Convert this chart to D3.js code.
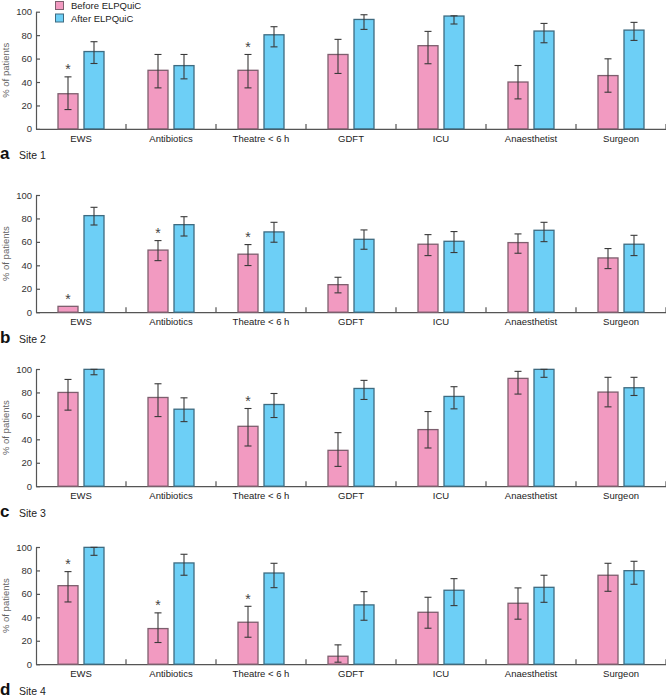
<!DOCTYPE html>
<html>
<head>
<meta charset="utf-8">
<script src="https://cdn.jsdelivr.net/npm/d3@7"></script>
<style>
  html, body { margin: 0; padding: 0; background: #fff; }
  svg { display: block; font-family: "Liberation Sans", Arial, Helvetica, sans-serif; }
</style>
</head>
<body>
<svg id="chart" width="666" height="699"></svg>
<script>
// ---------- DATA ----------
const categories = ["EWS", "Antibiotics", "Theatre < 6 h", "GDFT", "ICU", "Anaesthetist", "Surgeon"];
const seriesNames = ["Before ELPQuiC", "After ELPQuiC"];
const siteLetters = ["a", "b", "c", "d"];
const siteNames = ["Site 1", "Site 2", "Site 3", "Site 4"];
const yTicks = [0, 20, 40, 60, 80, 100];

// Site 1
const before1   = [30, 50, 50, 63.5, 71, 40, 45.5];
const before1Lo = [16.5, 35, 35, 47.3, 55.6, 25.6, 31.3];
const before1Hi = [44.4, 63.5, 63.5, 76.4, 83.2, 54.1, 59.8];
const after1    = [66, 54, 80.3, 93.4, 96.3, 83.5, 84.3];
const after1Lo  = [55.8, 42.7, 70, 84.9, 89.5, 73.5, 75.5];
const after1Hi  = [74.4, 63.5, 87.2, 97.4, 96.5, 90, 90.9];
const stars1    = [1, 0, 1, 0, 0, 0, 0];

// Site 2
const before2   = [5, 53, 49.5, 23.5, 58, 59.4, 46.3];
const before2Lo = [5, 44, 39.8, 16.5, 48.3, 50.3, 37.2];
const before2Hi = [5, 61.1, 57.7, 29.8, 66.2, 66.8, 54.3];
const after2    = [82.4, 74.7, 68.5, 62.2, 60.5, 69.9, 58];
const after2Lo  = [74.4, 65, 59.7, 53.7, 50.9, 60.2, 48.3];
const after2Hi  = [89.5, 81.5, 76.7, 70.2, 68.8, 76.7, 65.6];
const stars2    = [1, 1, 1, 0, 0, 0, 0];

// Site 3
const before3   = [80, 75.7, 51.1, 30.6, 48.3, 92, 80.3];
const before3Lo = [64.9, 59.4, 34.3, 16.9, 32.6, 78.6, 67.7];
const before3Hi = [91.1, 87.4, 66.3, 45.7, 63.7, 98, 92.9];
const after3    = [99.7, 65.7, 69.7, 83.4, 76.6, 99.7, 84];
const after3Lo  = [95.1, 55.1, 58.6, 74, 66, 92.9, 77.4];
const after3Hi  = [99.7, 75.4, 79.1, 90.3, 84.9, 99.7, 92.9];
const stars3    = [0, 0, 1, 0, 0, 0, 0];

// Site 4
const before4   = [67, 30.4, 35.8, 6.8, 44.3, 52, 75.9];
const before4Lo = [53.1, 18.5, 23, 1.7, 30.7, 38.4, 62.2];
const before4Hi = [79, 43.8, 49.4, 16.5, 57.1, 65.1, 86.1];
const after4    = [99.7, 86.4, 77.8, 50.6, 63.1, 65.6, 79.8];
const after4Lo  = [92.9, 75.9, 65.3, 37.5, 50, 52.8, 68.2];
const after4Hi  = [99.7, 93.8, 86.1, 61.9, 73, 75.9, 87.8];
const stars4    = [1, 1, 1, 0, 0, 0, 0];

// ---------- LAYOUT ----------
const sites = [
  {before: before1, bLo: before1Lo, bHi: before1Hi, after: after1, aLo: after1Lo, aHi: after1Hi, stars: stars1},
  {before: before2, bLo: before2Lo, bHi: before2Hi, after: after2, aLo: after2Lo, aHi: after2Hi, stars: stars2},
  {before: before3, bLo: before3Lo, bHi: before3Hi, after: after3, aLo: after3Lo, aHi: after3Hi, stars: stars3},
  {before: before4, bLo: before4Lo, bHi: before4Hi, after: after4, aLo: after4Lo, aHi: after4Hi, stars: stars4}
];
const panelTops = [11.7, 195, 369, 547];
const panelH = 117.2;
const axisX = 36, rightX = 666;

const colors = {fill: ["#f29ac1", "#6dcff6"], stroke: ["#7d5f6e", "#3e6b80"]};
const axisColor = "#555";
const errColor = "#3a3a3a";

const svg = d3.select("#chart");

const x = d3.scaleBand().domain(categories).range([axisX, rightX]).paddingInner(0).paddingOuter(0);
const xs = d3.scaleBand().domain([0, 1]).range([22, 68]).paddingInner(2 - 46 / 26).paddingOuter(0);

sites.forEach((s, i) => {
  const top = panelTops[i];
  const y = d3.scaleLinear().domain([0, 100]).range([top + panelH, top]);
  const g = svg.append("g");

  // Y axis
  const yAxis = d3.axisLeft(y).tickValues(yTicks).tickSizeInner(-4).tickSizeOuter(0).tickPadding(4);
  const ya = g.append("g").attr("transform", `translate(${axisX},0)`).call(yAxis);
  ya.select(".domain").attr("stroke", axisColor).attr("stroke-width", 1.2);
  ya.selectAll(".tick line").attr("stroke", axisColor).attr("stroke-width", 1.2);
  ya.selectAll(".tick text").attr("fill", "#333").attr("font-size", "9.5px")
    .attr("font-family", "'Liberation Sans', Arial, sans-serif");

  // Y title
  g.append("text")
    .attr("transform", `translate(8.5,${top + panelH / 2}) rotate(-90)`)
    .attr("text-anchor", "middle")
    .attr("font-size", "9.5px").attr("fill", "#666")
    .text("% of patients");

  // X axis
  const xAxis = d3.axisBottom(x).tickSize(0).tickPadding(6);
  const xa = g.append("g").attr("transform", `translate(0,${top + panelH})`).call(xAxis);
  xa.select(".domain").attr("stroke", axisColor).attr("stroke-width", 1.2);
  xa.selectAll(".tick text").attr("fill", "#222").attr("font-size", "9.5px")
    .attr("font-family", "'Liberation Sans', Arial, sans-serif");
  // category separator ticks (inward)
  g.append("g").selectAll("line").data(categories).join("line")
    .attr("x1", d => x(d) + x.step()).attr("x2", d => x(d) + x.step())
    .attr("y1", top + panelH).attr("y2", top + panelH - 5)
    .attr("stroke", axisColor).attr("stroke-width", 1.2);

  // bars
  const series = [
    {vals: s.before, lo: s.bLo, hi: s.bHi, k: 0},
    {vals: s.after, lo: s.aLo, hi: s.aHi, k: 1}
  ];
  series.forEach(ser => {
    const data = categories.map((c, j) => ({c, v: ser.vals[j], lo: ser.lo[j], hi: ser.hi[j], j}));
    g.append("g").selectAll("rect").data(data).join("rect")
      .attr("x", d => x(d.c) + xs(ser.k))
      .attr("y", d => y(d.v))
      .attr("width", xs.bandwidth())
      .attr("height", d => y(0) - y(d.v))
      .attr("fill", colors.fill[ser.k])
      .attr("stroke", colors.stroke[ser.k])
      .attr("stroke-width", 1.3);

    const eb = g.append("g").attr("stroke", errColor).attr("stroke-width", 1.1);
    const errData = data.filter(d => d.hi > d.lo);
    const cx = d => x(d.c) + xs(ser.k) + xs.bandwidth() / 2;
    eb.selectAll("line.v").data(errData).join("line").attr("class", "v")
      .attr("x1", cx).attr("x2", cx).attr("y1", d => y(d.lo)).attr("y2", d => y(d.hi));
    eb.selectAll("line.t").data(errData).join("line").attr("class", "t")
      .attr("x1", d => cx(d) - 3.5).attr("x2", d => cx(d) + 3.5).attr("y1", d => y(d.hi)).attr("y2", d => y(d.hi));
    eb.selectAll("line.b").data(errData).join("line").attr("class", "b")
      .attr("x1", d => cx(d) - 3.5).attr("x2", d => cx(d) + 3.5).attr("y1", d => y(d.lo)).attr("y2", d => y(d.lo));
  });

  // asterisks
  const starData = categories.map((c, j) => ({c, hi: Math.max(s.bHi[j], s.before[j]), on: s.stars[j]})).filter(d => d.on);
  g.append("g").selectAll("text").data(starData).join("text")
    .attr("x", d => x(d.c) + xs(0) + xs.bandwidth() / 2)
    .attr("y", d => y(d.hi) - 2.5)
    .attr("text-anchor", "middle")
    .attr("font-size", "14px").attr("fill", "#444")
    .text("*");

  // panel label
  const lab = g.append("text").attr("x", 0).attr("y", top + panelH + 30.5);
  lab.append("tspan").attr("font-size", "17px").attr("font-weight", "bold").attr("fill", "#111").text(siteLetters[i]);
  g.append("text").attr("x", 19).attr("y", top + panelH + 30.5)
    .attr("font-size", "10.5px").attr("fill", "#222").text(siteNames[i]);

  // legend (first panel only)
  if (i === 0) {
    const lg = g.append("g");
    seriesNames.forEach((name, k) => {
      lg.append("rect").attr("x", 55.5).attr("y", 1.5 + k * 12.5).attr("width", 8).attr("height", 8)
        .attr("fill", colors.fill[k]).attr("stroke", colors.stroke[k]).attr("stroke-width", 1);
      lg.append("text").attr("x", 71).attr("y", 9 + k * 12.5)
        .attr("font-size", "9.5px").attr("fill", "#222").text(name);
    });
  }
});
</script>
</body>
</html>
